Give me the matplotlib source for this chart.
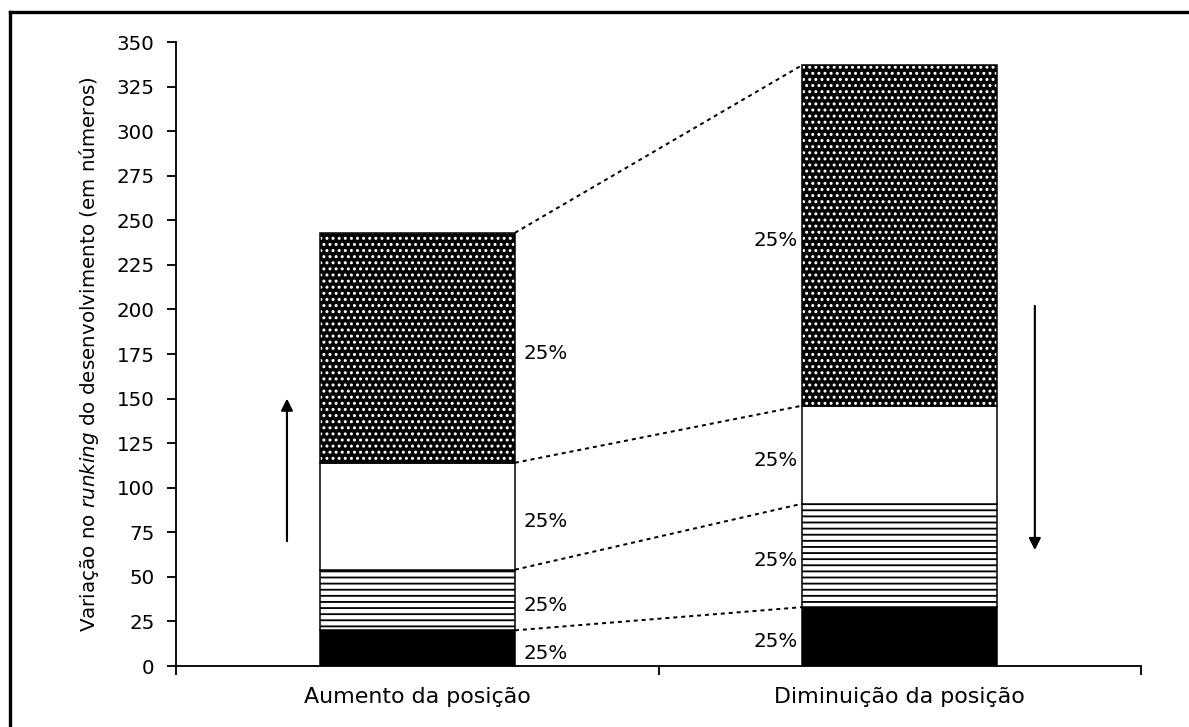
import numpy as np
import matplotlib
matplotlib.use("Agg")
import matplotlib.pyplot as plt
from matplotlib.lines import Line2D

plt.rcParams['font.family'] = ['DejaVu Sans']
plt.rcParams['mathtext.fontset'] = 'custom'
plt.rcParams['mathtext.it'] = 'DejaVu Sans:italic'
plt.rcParams['mathtext.rm'] = 'DejaVu Sans'
plt.rcParams['hatch.linewidth'] = 1.2

# dados
categorias = ["Aumento da posição", "Diminuição da posição"]
# segmentos empilhados (de baixo para cima)
preto = [20, 33]
listrado = [34, 58]
branco = [60, 55]
pontilhado = [129, 191]
rotulos_pct = ["25%", "25%", "25%", "25%"]
seta_subida = (70, 150)    # aumento
seta_descida = (202, 65)   # diminuição
yticks = np.arange(0, 351, 25)

DPI = 110
fig = plt.figure(figsize=(1189 / DPI, 727 / DPI), dpi=DPI)
ax = fig.add_axes([176 / 1189, 1 - 666 / 727, (1141 - 176) / 1189, (666 - 42) / 727])

x = np.arange(len(categorias))
w = 0.405
segs = [preto, listrado, branco, pontilhado]
base = np.zeros(len(categorias))
tops = []
for i, seg in enumerate(segs):
    seg = np.array(seg, dtype=float)
    if i == 0:
        ax.bar(x, seg, w, bottom=base, color="black", edgecolor="black", linewidth=1)
    elif i == 1:
        ax.bar(x, seg, w, bottom=base, color="white", edgecolor="black", hatch="---", linewidth=1)
    elif i == 2:
        ax.bar(x, seg, w, bottom=base, color="white", edgecolor="black", linewidth=1)
    else:
        ax.bar(x, seg, w, bottom=base, color="black", edgecolor="white", hatch="...", linewidth=0)
        ax.bar(x, seg, w, bottom=base, color="none", edgecolor="black", linewidth=1)
    # rótulos
    ax.text(x[0] + w / 2 + 0.018, base[0] + seg[0] / 2 - 3, rotulos_pct[i],
            ha="left", va="center", fontsize=13)
    ax.text(x[1] - w / 2 - 0.008, base[1] + seg[1] / 2 - 3, rotulos_pct[i],
            ha="right", va="center", fontsize=13)
    base = base + seg
    tops.append(base.copy())

# linhas tracejadas ligando os segmentos
for t in tops:
    ax.plot([x[0] + w / 2, x[1] - w / 2], [t[0], t[1]], color="black",
            lw=1.3, linestyle=(0, (2, 2)))

# setas
ax.annotate("", xy=(-0.27, seta_subida[1]), xytext=(-0.27, seta_subida[0]),
            arrowprops=dict(arrowstyle="-|>", color="black", lw=1.4,
                            mutation_scale=16, shrinkA=0, shrinkB=0))
ax.annotate("", xy=(1.28, seta_descida[1]), xytext=(1.28, seta_descida[0]),
            arrowprops=dict(arrowstyle="-|>", color="black", lw=1.4,
                            mutation_scale=16, shrinkA=0, shrinkB=0))

ax.set_xlim(-0.5, 1.5)
ax.set_ylim(0, 350)
ax.set_yticks(yticks)
ax.set_xticks(x)
ax.set_xticklabels(categorias, fontsize=14.5)
ax.set_xticks([-0.5, 0.5, 1.5], minor=True)
ax.tick_params(axis="x", which="major", length=0, pad=14)
ax.tick_params(axis="x", which="minor", length=6, width=1.2, direction="out")
ax.tick_params(axis="y", length=6, width=1.2, labelsize=13, pad=8)
for s in ["top", "right"]:
    ax.spines[s].set_visible(False)
for s in ["left", "bottom"]:
    ax.spines[s].set_linewidth(1.2)
ax.set_ylabel(r"Variação no $\it{runking}$ do desenvolvimento (em números)", fontsize=13)
ax.yaxis.set_label_coords(-0.078, 0.5)

# moldura da figura
fig.add_artist(Line2D([10 / 1189, 10 / 1189], [0, 1 - 12 / 727], color="black", lw=2.2,
                      transform=fig.transFigure))
fig.add_artist(Line2D([10 / 1189, 1], [1 - 12 / 727, 1 - 12 / 727], color="black", lw=2.2,
                      transform=fig.transFigure))

fig.savefig("out.png", dpi=DPI)
